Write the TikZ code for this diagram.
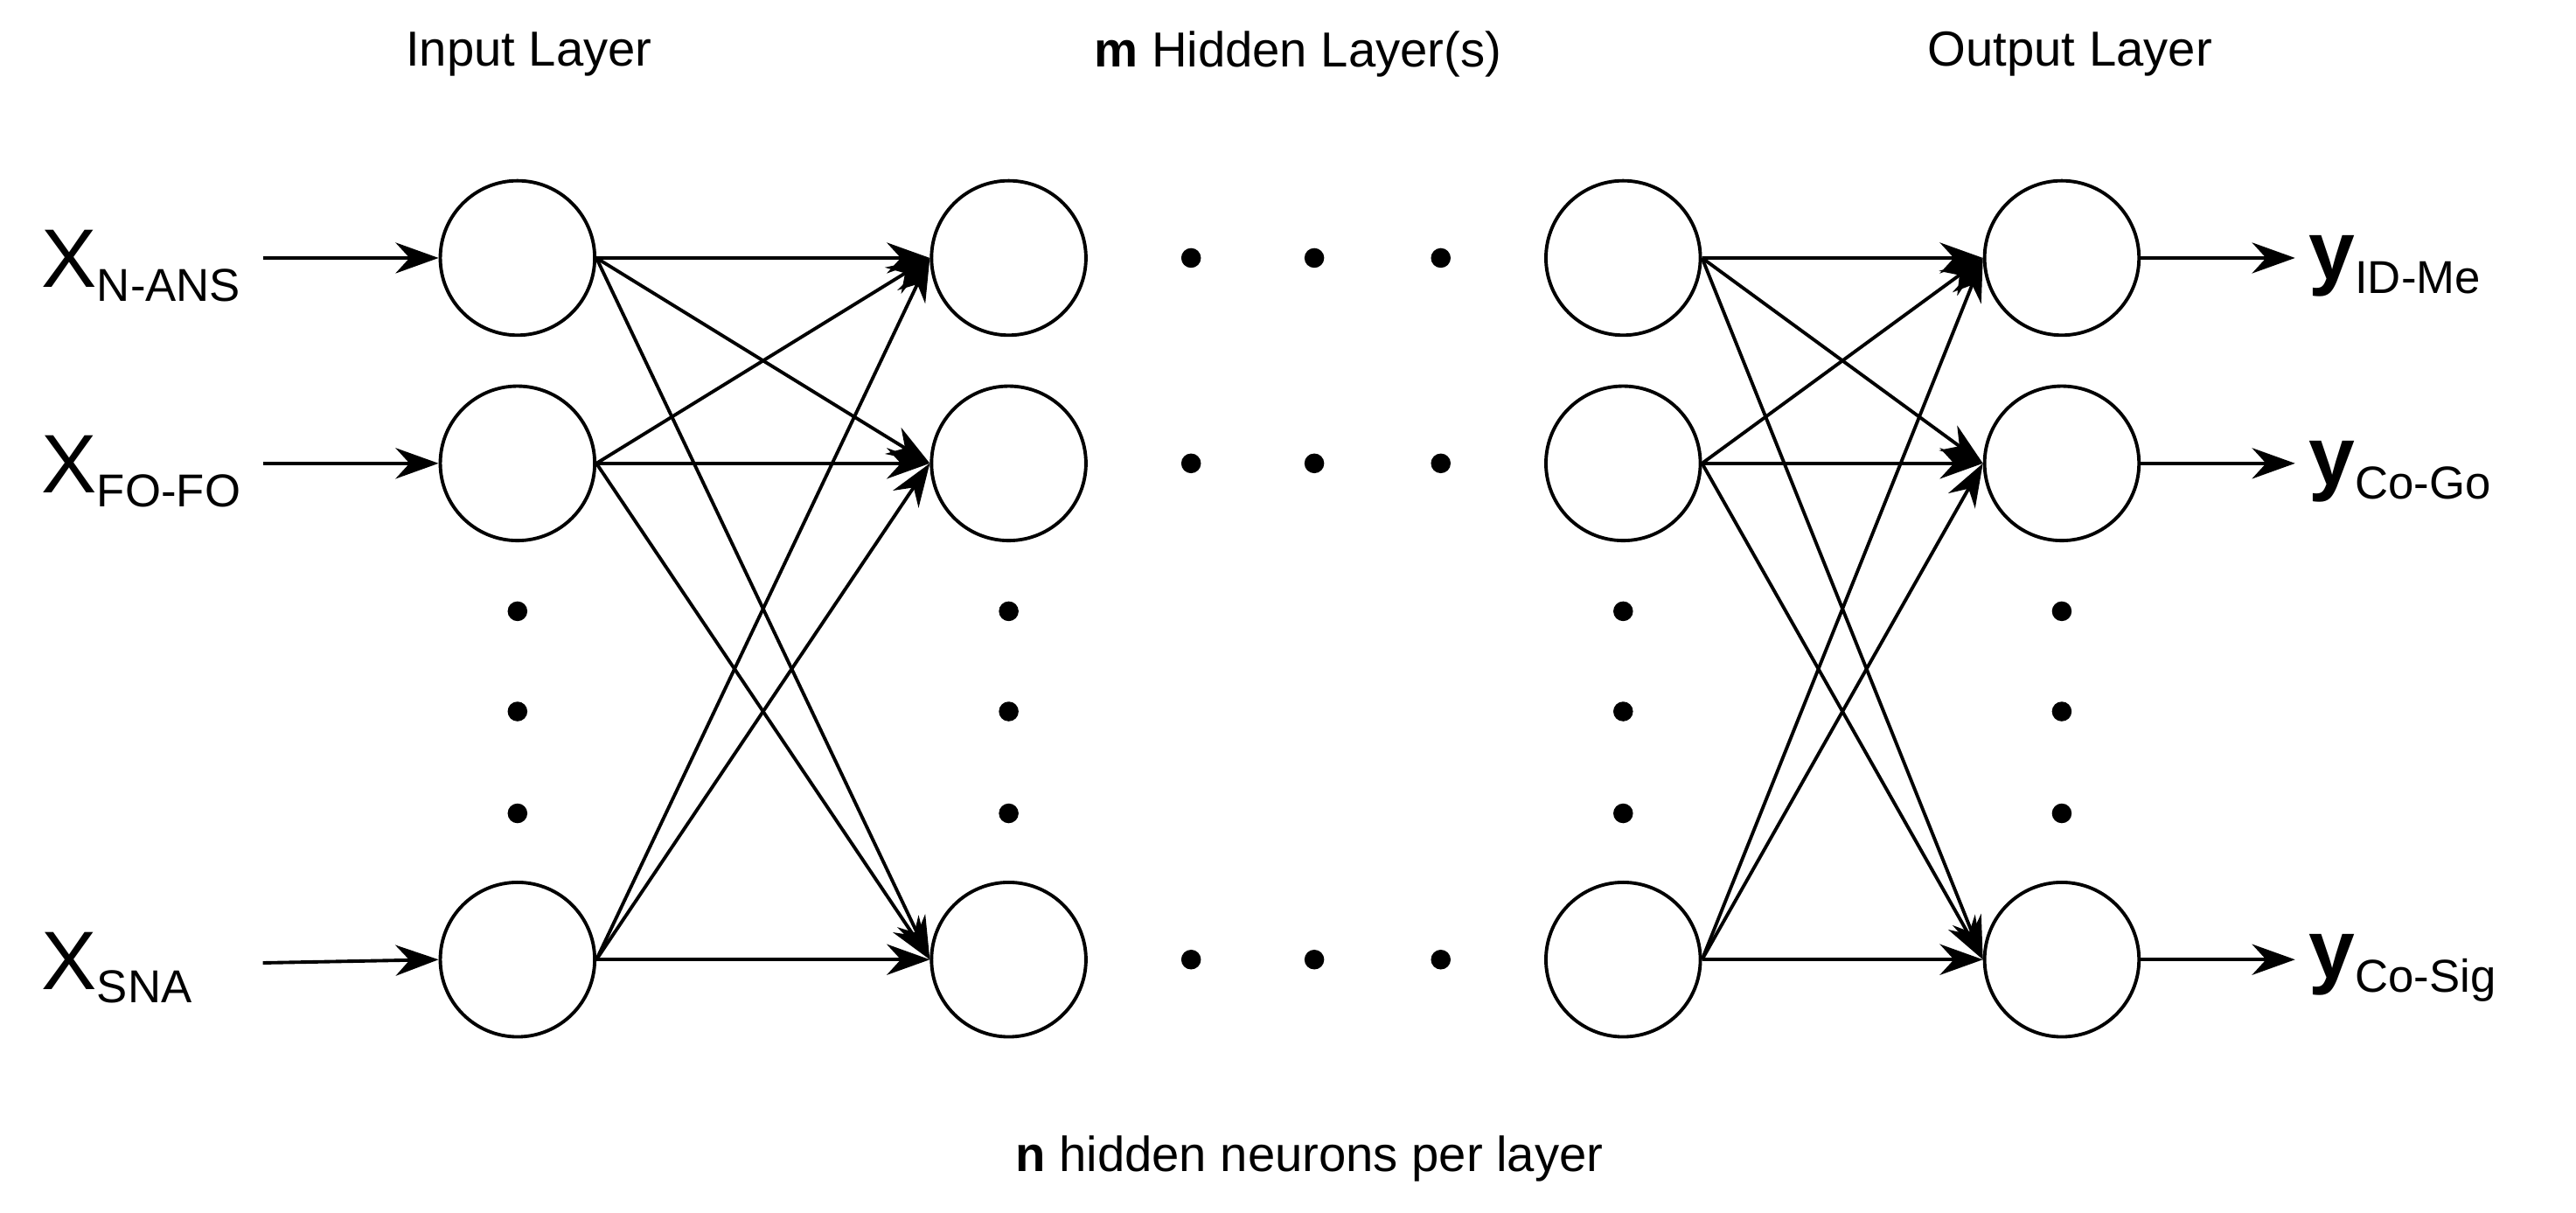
\documentclass[tikz,border=0pt]{standalone}
\usepackage{fontspec}
\setmainfont{Liberation Sans}
\usetikzlibrary{arrows.meta}
\begin{document}
\begin{tikzpicture}[x=0.01879cm,y=-0.01879cm,
  neuron/.style={circle,draw,line width=1.1pt,minimum size=94*0.01879cm,inner sep=0},
  conn/.style={line width=1.1pt,-{Stealth[length=14pt,width=10pt]}},
  dot/.style={circle,fill,inner sep=0,minimum size=12*0.01879cm},
  title/.style={font=\fontsize{16}{18}\selectfont},
  lab/.style={anchor=west,inner sep=0}]
\useasboundingbox (0,0) rectangle (1568,738);
\newcommand{\inlab}[2]{{\fontsize{27}{27}\selectfont #1}\raisebox{-0.45em}{\fontsize{15}{15}\selectfont #2}}
\foreach \n/\x in {i/315,a/614,b/988,o/1255}{
  \node[neuron] (\n1) at (\x,157) {};
  \node[neuron] (\n2) at (\x,282) {};
  \node[neuron] (\n3) at (\x,584) {};
  \foreach \k/\y in {1/372,2/433,3/495} \node[dot] (v\n\k) at (\x,\y) {};
}
\foreach \r/\y in {1/157,2/282,3/584}
  \foreach \k/\x in {1/725,2/800,3/877} \node[dot] (h\r\k) at (\x,\y) {};
\foreach \s in {1,2,3}\foreach \t in {1,2,3}{
  \draw[conn] (i\s.east) -- (a\t.west);
  \draw[conn] (b\s.east) -- (o\t.west);
}
\node[title] (t1) at (322,33) {Input Layer};
\node[title] (t2) at (790,33) {\textbf{m} Hidden Layer(s)};
\node[title] (t3) at (1260,33) {Output Layer};
\node[title] (t4) at (797,705) {\textbf{n} hidden neurons per layer};
\node[lab] (x1) at (25,162) {\inlab{X}{N-ANS}};
\node[lab] (x2) at (25,287) {\inlab{X}{FO-FO}};
\node[lab] (x3) at (25,589) {\inlab{X}{SNA}};
\coordinate (c1) at (160,157); \coordinate (c2) at (160,282); \coordinate (c3) at (160,586);
\foreach \r in {1,2,3} \draw[conn] (c\r) -- (i\r.west);
\node[lab] (y1) at (1405,162) {\inlab{\textbf{y}}{ID-Me}};
\node[lab] (y2) at (1405,287) {\inlab{\textbf{y}}{Co-Go}};
\node[lab] (y3) at (1405,589) {\inlab{\textbf{y}}{Co-Sig}};
\coordinate (d1) at (1397,157); \coordinate (d2) at (1397,282); \coordinate (d3) at (1397,584);
\foreach \r in {1,2,3} \draw[conn] (o\r.east) -- (d\r);
\end{tikzpicture}
\end{document}
